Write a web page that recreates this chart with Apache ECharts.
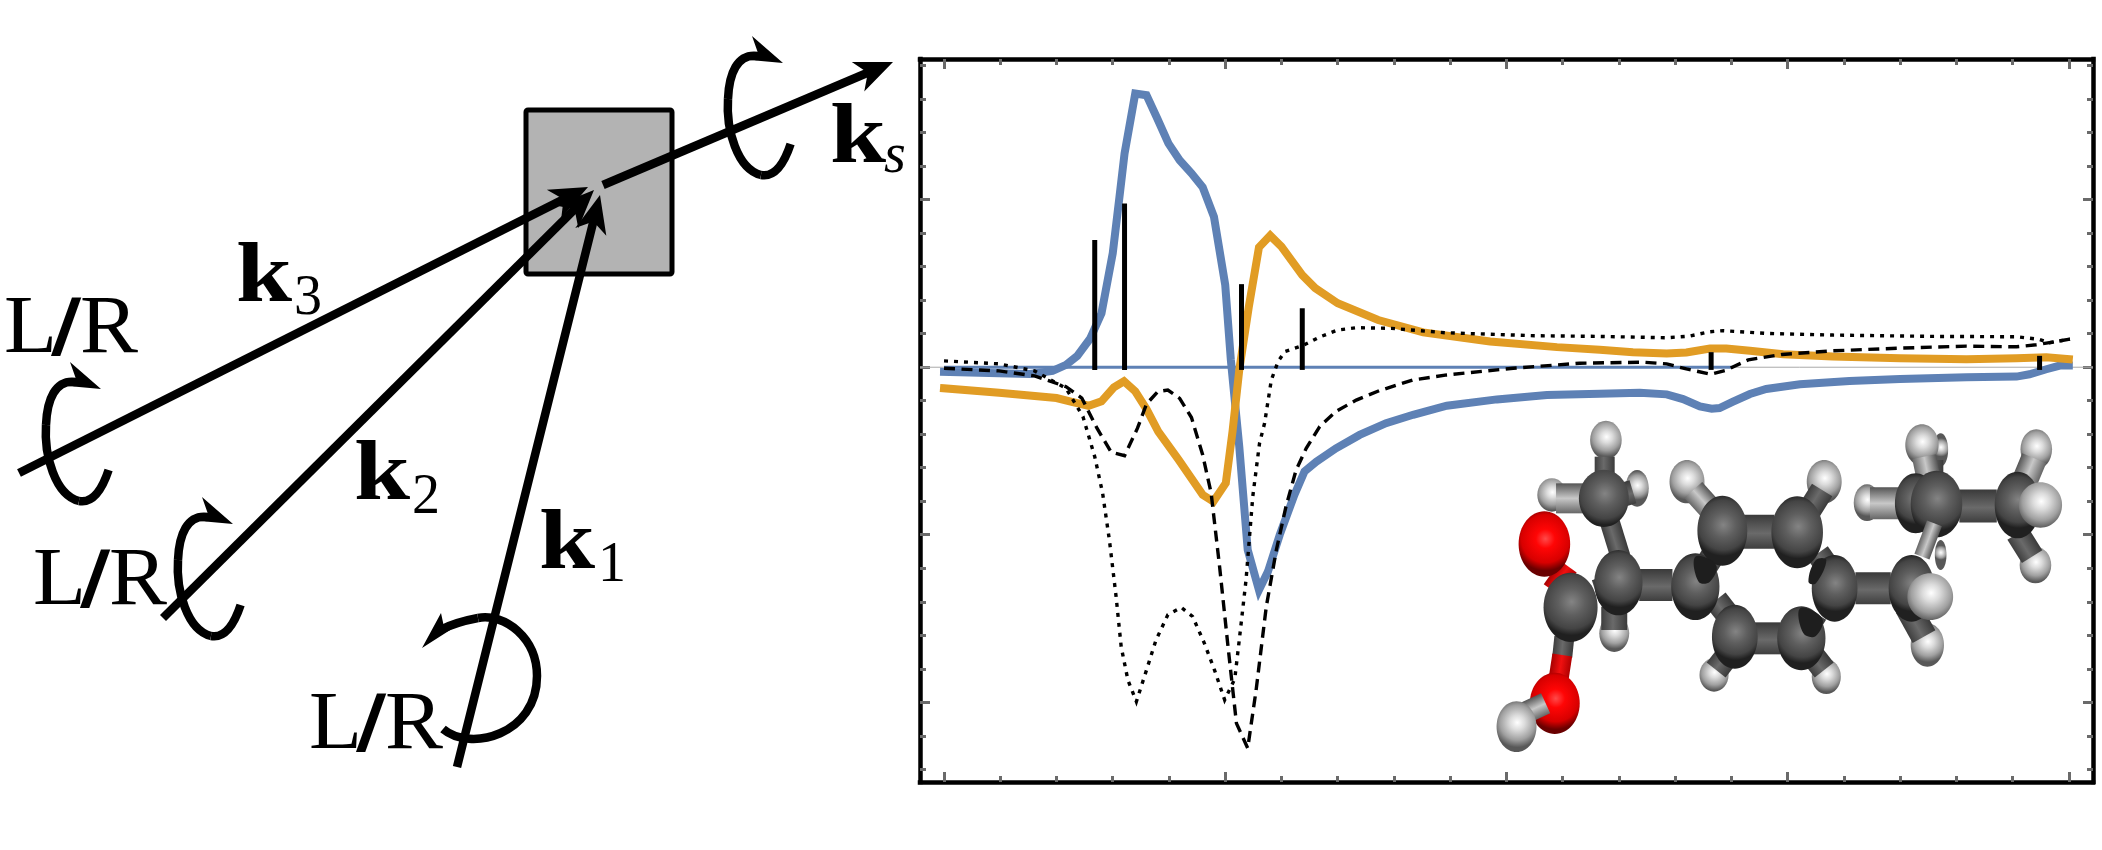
<!DOCTYPE html>
<html><head><meta charset="utf-8">
<style>html,body{margin:0;padding:0;background:#fff}#c{width:2102px;height:850px}</style>
<script src="https://cdn.jsdelivr.net/npm/echarts@6/dist/echarts.min.js"></script>
</head><body><div id="c"></div>
<script>
// ---------- chart data (x and y in tick units) ----------
const blueCurve = [[0,-0.14],[0.98,-0.18],[1.53,-0.2],[1.93,-0.11],[2.17,0.07],[2.37,0.34],[2.6,0.86],[2.8,1.61],[3.0,3.4],[3.12,5.09],[3.21,6.38],[3.4,8.17],[3.6,8.12],[3.79,7.43],[3.99,6.68],[4.19,6.18],[4.4,5.79],[4.6,5.37],[4.8,4.49],[5.0,2.46],[5.1,0.22],[5.25,-2.37],[5.4,-5.45],[5.6,-6.65],[5.76,-6.1],[5.97,-5.0],[6.23,-3.81],[6.41,-3.11],[6.62,-2.82],[6.97,-2.42],[7.39,-2.02],[7.86,-1.67],[8.34,-1.42],[8.94,-1.15],[9.83,-0.96],[10.72,-0.83],[11.66,-0.79],[12.37,-0.76],[12.85,-0.81],[13.14,-0.95],[13.44,-1.17],[13.65,-1.24],[13.79,-1.22],[14.03,-1.03],[14.33,-0.8],[14.62,-0.65],[15.22,-0.51],[16.1,-0.41],[17.0,-0.35],[18.18,-0.3],[19.07,-0.28],[19.3,-0.21],[19.6,-0.06],[19.84,0.05],[20.0,0.05]];
const orangeCurve = [[0,-0.63],[0.98,-0.76],[2.0,-0.92],[2.29,-1.04],[2.57,-1.15],[2.8,-1.02],[3.02,-0.6],[3.2,-0.42],[3.4,-0.72],[3.6,-1.25],[3.81,-1.92],[4.17,-2.76],[4.6,-3.81],[4.79,-4.01],[5.01,-3.46],[5.13,-1.92],[5.25,-0.08],[5.42,1.81],[5.6,3.58],[5.8,3.93],[6.0,3.6],[6.37,2.75],[6.6,2.36],[7.0,1.91],[7.72,1.41],[8.52,1.04],[9.71,0.77],[10.9,0.6],[11.66,0.52],[12.25,0.45],[12.85,0.41],[13.2,0.44],[13.62,0.56],[13.91,0.56],[14.33,0.49],[14.92,0.39],[15.8,0.32],[17.0,0.27],[18.18,0.24],[19.07,0.27],[19.6,0.3],[20.0,0.24]];
const dashedCurve = [[0,-0.03],[0.98,-0.11],[1.61,-0.26],[2.17,-0.58],[2.45,-0.92],[2.72,-1.82],[2.97,-2.53],[3.21,-2.64],[3.44,-1.82],[3.6,-1.1],[3.8,-0.73],[3.98,-0.68],[4.19,-0.93],[4.4,-1.5],[4.6,-2.62],[4.75,-3.76],[4.9,-5.95],[5.05,-8.34],[5.2,-10.63],[5.4,-11.37],[5.55,-9.63],[5.73,-7.15],[5.91,-5.45],[6.08,-4.16],[6.26,-3.07],[6.44,-2.42],[6.68,-1.77],[6.97,-1.32],[7.33,-0.98],[7.74,-0.7],[8.34,-0.38],[8.94,-0.23],[10.12,-0.03],[11.3,0.12],[12.43,0.15],[12.85,0.1],[13.2,-0.05],[13.64,-0.21],[13.89,-0.1],[14.3,0.22],[14.9,0.38],[15.8,0.49],[17.0,0.57],[18.18,0.63],[19.07,0.61],[19.42,0.67],[19.6,0.72],[20.02,0.84]];
const dottedCurve = [[0,0.19],[0.98,0.1],[1.61,-0.11],[2.17,-0.63],[2.47,-1.47],[2.68,-2.67],[2.82,-3.76],[2.94,-5.15],[3.06,-6.85],[3.15,-8.34],[3.27,-9.34],[3.42,-9.98],[3.6,-9.04],[3.77,-8.14],[3.98,-7.39],[4.22,-7.17],[4.42,-7.44],[4.63,-8.24],[4.81,-9.04],[4.99,-9.93],[5.17,-9.3],[5.25,-8.14],[5.37,-6.35],[5.49,-3.86],[5.61,-2.27],[5.7,-1.67],[5.82,-0.38],[5.94,0.17],[6.06,0.47],[6.37,0.64],[6.69,0.91],[7.0,1.11],[7.33,1.18],[7.96,1.16],[8.91,1.03],[10.5,0.94],[11.66,0.92],[12.85,0.88],[13.26,0.93],[13.62,1.06],[13.85,1.09],[14.62,1.01],[15.8,0.96],[17.6,0.92],[19.07,0.91],[19.48,0.83],[19.66,0.73],[20.02,0.84]];
const stickX = [2.68,3.21,5.29,6.37,13.64,19.48];
const stickY = [3.80,4.89,2.48,1.76,0.45,0.34];
const baselineEnd = 14.03;
const xMinorTicks = [0,1,2,3,4,5,6,7,8,9,10,11,12,13,14,15,16,17,18,19,20];
const xMajorTicks = [0,5,10,15,20];
const yMinorTicks = [-12,-11,-10,-9,-8,-7,-6,-5,-4,-3,-2,-1,0,1,2,3,4,5,6,7,8,9];
const yMajorTicks = [-10,-5,0,5];
const xRange = [-0.427,20.43];
const yRange = [-12.38,9.2];

// ---------- schematic beam labels ----------
const labelLR = ['L','/','R'];
const labelK = 'k';
const labelSubs = ['1','2','3','s'];

const BLUE='#5e81b5', ORANGE='#e19c24', TICK='#6a6a6a';

function axis(kind,pos,vals,len,line,gridIndex){
  return {type:'value',gridIndex:gridIndex,position:pos,min:kind==='x'?xRange[0]:yRange[0],max:kind==='x'?xRange[1]:yRange[1],
    axisLine:{show:line,onZero:false,lineStyle:{color:'#000',width:4.5,cap:'square'}},
    axisTick:{show:true,inside:true,length:len,customValues:vals,lineStyle:{color:TICK,width:3}},
    axisLabel:{show:false},splitLine:{show:false},minorTick:{show:false}};
}
function lineSeries(data,color,width,extra){
  return {type:'line',data:data,showSymbol:false,symbol:'none',silent:true,animation:false,clip:false,xAxisIndex:0,yAxisIndex:0,
    lineStyle:Object.assign({color:color,width:width,join:'miter',miterLimit:6},extra||{})};
}

// ---------- schematic helpers (diagram and molecule, not data marks) ----------
const g=[];
const BEAM=8.5;
function arrowHead(tx,ty,ang,L,W,z){
  const c=Math.cos(ang),s=Math.sin(ang);
  const p=(a,b)=>[tx+a*c-b*s,ty+a*s+b*c];
  g.push({type:'polygon',silent:true,z:z||10,shape:{points:[p(0,0),p(-L,-W),p(-L*0.72,0),p(-L,W)]},style:{fill:'#000'}});
}
function beam(x1,y1,x2,y2){
  const ang=Math.atan2(y2-y1,x2-x1);
  const bx=x2-Math.cos(ang)*18, by=y2-Math.sin(ang)*18;
  g.push({type:'line',silent:true,z:9,shape:{x1,y1,x2:bx,y2:by},style:{stroke:'#000',lineWidth:BEAM,lineCap:'butt'}});
  arrowHead(x2,y2,ang,38,16);
}
function curve(pts,head){
  pts.forEach(b=>g.push({type:'bezierCurve',silent:true,z:9,shape:{x1:b[0],y1:b[1],cpx1:b[2],cpy1:b[3],cpx2:b[4],cpy2:b[5],x2:b[6],y2:b[7]},style:{stroke:'#000',lineWidth:BEAM,fill:null,lineCap:'butt'}}));
  g.push({type:'polygon',silent:true,z:10,shape:{points:head},style:{fill:'#000'}});
}
function text(str,x,base,font,sx,extra){
  const size=parseFloat(font.match(/(\d+)px/)[1]);
  g.push({type:'text',silent:true,z:20,x:x,y:base-0.27*size,scaleX:sx||1,
    style:Object.assign({x:0,y:0,text:str,font:font,fill:'#000',textAlign:'left',textVerticalAlign:'middle'},extra||{})});
}
// sample box
g.push({type:'rect',silent:true,z:5,shape:{x:526,y:110,width:146,height:164,r:2},style:{fill:'#b3b3b3',stroke:'#000',lineWidth:5}});
// beams
beam(19,473,588,187);
beam(163,618,594,190);
beam(457,767,600,195);
beam(603,185,893,62);
// circular polarisation arrows
function loop(dx,dy){
  const P=(x,y)=>[x+dx,y+dy];
  curve([[108.6+dx,470+dy,100+dx,496+dy,90+dx,503+dy,79+dx,501+dy],[79+dx,501+dy,55+dx,495+dy,44+dx,455+dy,46+dx,425+dy],[46+dx,425+dy,47+dx,400+dy,55+dx,379+dy,76+dx,382+dy]],
    [P(101,389),P(70,362),P(76,379),P(68,386)]);
}
loop(0,0); loop(132,135); loop(682,-326);
curve([[443,729,470,752,537,735,537,676],[537,676,537,638,505,613,478,618],[478,618,462,621,452,624,440,630]],
  [[422,648],[441,613],[444,627],[458,625]]);
// labels
const lrFont="82px 'Liberation Serif'";
[[4,353],[33,605],[309,749]].forEach(p=>{
  text(labelLR[0],p[0],p[1],lrFont,1.06);
  text(labelLR[1],p[0]+50,p[1]+1,"bold 82px 'Liberation Serif'",1.06,{stroke:'#000',lineWidth:3});
  text(labelLR[2],p[0]+76,p[1],lrFont,1.06);
});
const kFont="bold 84px 'Liberation Serif'", subFont="56px 'Liberation Serif'";
[[539,569,0,598,581],[354,500,1,412,513],[236,302,2,294,314]].forEach(a=>{
  text(labelK,a[0],a[1],kFont,1.2); text(labelSubs[a[2]],a[3],a[4],subFont);
});
text(labelK,830,163,kFont,1.2); text(labelSubs[3],884,172,"italic 56px 'Liberation Serif'");

// molecule, in crop units of the picture
const mx=z=>1450+z/2.405, my=z=>400+z/3;
const LG=echarts.graphic.LinearGradient, RG=echarts.graphic.RadialGradient;
const grad={
  C:[{offset:0,color:'#848484'},{offset:0.4,color:'#5f5f5f'},{offset:0.8,color:'#444'},{offset:1,color:'#202020'}],
  H:[{offset:0,color:'#ffffff'},{offset:0.3,color:'#dcdcdc'},{offset:0.7,color:'#a0a0a0'},{offset:1,color:'#585858'}],
  O:[{offset:0,color:'#ff4a4a'},{offset:0.3,color:'#ff0505'},{offset:0.75,color:'#d80000'},{offset:1,color:'#6a0000'}]
};
function atom(t,cx,cy,rx,ry){
  g.push({type:'ellipse',silent:true,z:30,shape:{cx:mx(cx),cy:my(cy),rx:rx/2.405,ry:ry/3},
    style:{fill:new RG(0.52,0.42,0.62,grad[t])}});
}
function bond(x1,y1,x2,y2,w,c){
  const X1=mx(x1),Y1=my(y1),X2=mx(x2),Y2=my(y2),d=Math.hypot(X2-X1,Y2-Y1),nx=-(Y2-Y1)/d*w/2,ny=(X2-X1)/d*w/2;
  const stops=c==='O'?[{offset:0,color:'#a80000'},{offset:0.5,color:'#f01010'},{offset:1,color:'#b00000'}]
    :c==='H'?[{offset:0,color:'#666'},{offset:0.5,color:'#c8c8c8'},{offset:1,color:'#555'}]
    :[{offset:0,color:'#3e3e3e'},{offset:0.45,color:'#6a6a6a'},{offset:1,color:'#3a3a3a'}];
  g.push({type:'line',silent:true,z:30,shape:{x1:X1,y1:Y1,x2:X2,y2:Y2},
    style:{stroke:new LG(X1+nx,Y1+ny,X1-nx,Y1-ny,stops,true),lineWidth:w}});
}
function shade(pts){
  g.push({type:'polygon',silent:true,z:30,shape:{points:pts.map(p=>[mx(p[0]),my(p[1])]),smooth:0.4},style:{fill:'#1e1e1e'}});
}
// back hydrogens and their bonds
atom('H',1180,150,18,50); atom('H',1180,465,14,45);
bond(1160,180,1160,300,22,'C');
atom('H',245,285,35,50); bond(255,295,330,295,30,'H');
atom('H',450,265,28,55); bond(400,290,440,275,24,'C');
atom('H',395,700,36,56); bond(395,620,395,690,26,'C');
atom('H',635,825,35,50); bond(690,730,640,810,24,'C');
atom('H',905,830,35,52); bond(850,730,900,810,24,'C');
atom('H',1148,735,40,65); bond(1100,620,1140,710,26,'C');
atom('H',1408,495,38,55); bond(1365,400,1400,470,24,'C');
atom('H',1410,148,38,60); bond(1380,250,1405,175,26,'H');
atom('H',1003,308,32,55); bond(1010,310,1100,310,32,'H');
atom('H',1135,135,40,62); bond(1140,170,1155,260,24,'H');
atom('H',570,245,42,65); bond(585,270,650,360,24,'H');
atom('H',900,245,42,65); bond(895,270,850,360,24,'C');
atom('H',375,120,38,58); bond(372,170,372,250,20,'C');
// frame of the rings and chains
bond(455,555,535,555,32,'C');
bond(700,395,780,395,34,'C');
bond(730,715,795,715,32,'C');
bond(975,565,1060,565,32,'C');
bond(1225,318,1315,318,33,'C');
bond(640,600,690,680,24,'C');
bond(885,460,925,530,24,'C');
bond(600,530,650,430,24,'C');
bond(880,640,850,700,24,'C');
bond(378,340,410,470,20,'C');
bond(350,575,400,555,24,'C');
atom('C',1120,310,50,90);
atom('C',370,295,60,86);
atom('C',405,548,58,98);
bond(285,500,245,570,20,'O');
bond(275,710,270,770,20,'C');
bond(270,765,262,830,20,'O');
atom('O',252,910,60,92);
bond(160,950,230,910,22,'H');
atom('H',160,980,48,76);
atom('C',290,622,65,104);
atom('O',227,432,62,98);
atom('C',590,560,58,100);
atom('C',685,710,55,96);
atom('C',845,715,58,96);
atom('C',655,392,60,105);
atom('C',835,397,62,108);
atom('C',925,565,55,100);
atom('C',1110,565,55,100);
atom('C',1170,312,62,100);
bond(1165,370,1135,470,16,'H');
atom('C',1365,315,55,100);
atom('H',1420,315,52,68);
atom('H',1155,590,55,70);
// shaded wedges where ring bonds enter the atoms
shade([[590,470],[640,495],[625,545],[598,545]]);
shade([[842,625],[895,655],[880,708],[850,700]]);
shade([[880,480],[905,480],[880,550],[862,545]]);

// ---------- chart ----------
const series=[
  lineSeries([[xRange[0],0],[xRange[1],0]],'#aaaaaa',1),
  lineSeries([[0,0],[baselineEnd,0]],BLUE,3),
  lineSeries(blueCurve,BLUE,8,{cap:'square'}),
  lineSeries(orangeCurve,ORANGE,8,{cap:'square'})
];
stickX.forEach((x,i)=>series.push(lineSeries([[x,-0.08],[x,stickY[i]]],'#000',5)));
series.push(lineSeries(dashedCurve,'#000',3.4,{type:[11,6.5]}));
series.push(lineSeries(dottedCurve,'#000',3.4,{type:[4,6]}));

const rect={left:920,right:9,top:59,bottom:68,containLabel:false};
const chart=echarts.init(document.getElementById('c'),null,{renderer:'canvas'});
chart.setOption({
  animation:false,
  backgroundColor:'#fff',
  grid:[Object.assign({},rect),Object.assign({},rect)],
  xAxis:[axis('x','bottom',xMinorTicks,6,true,0),axis('x','top',xMinorTicks,6,true,0),axis('x','bottom',xMajorTicks,10,false,1),axis('x','top',xMajorTicks,10,false,1)],
  yAxis:[axis('y','left',yMinorTicks,6,true,0),axis('y','right',yMinorTicks,6,true,0),axis('y','left',yMajorTicks,10,false,1),axis('y','right',yMajorTicks,10,false,1)],
  series:series,
  graphic:{elements:g}
});
</script></body></html>
